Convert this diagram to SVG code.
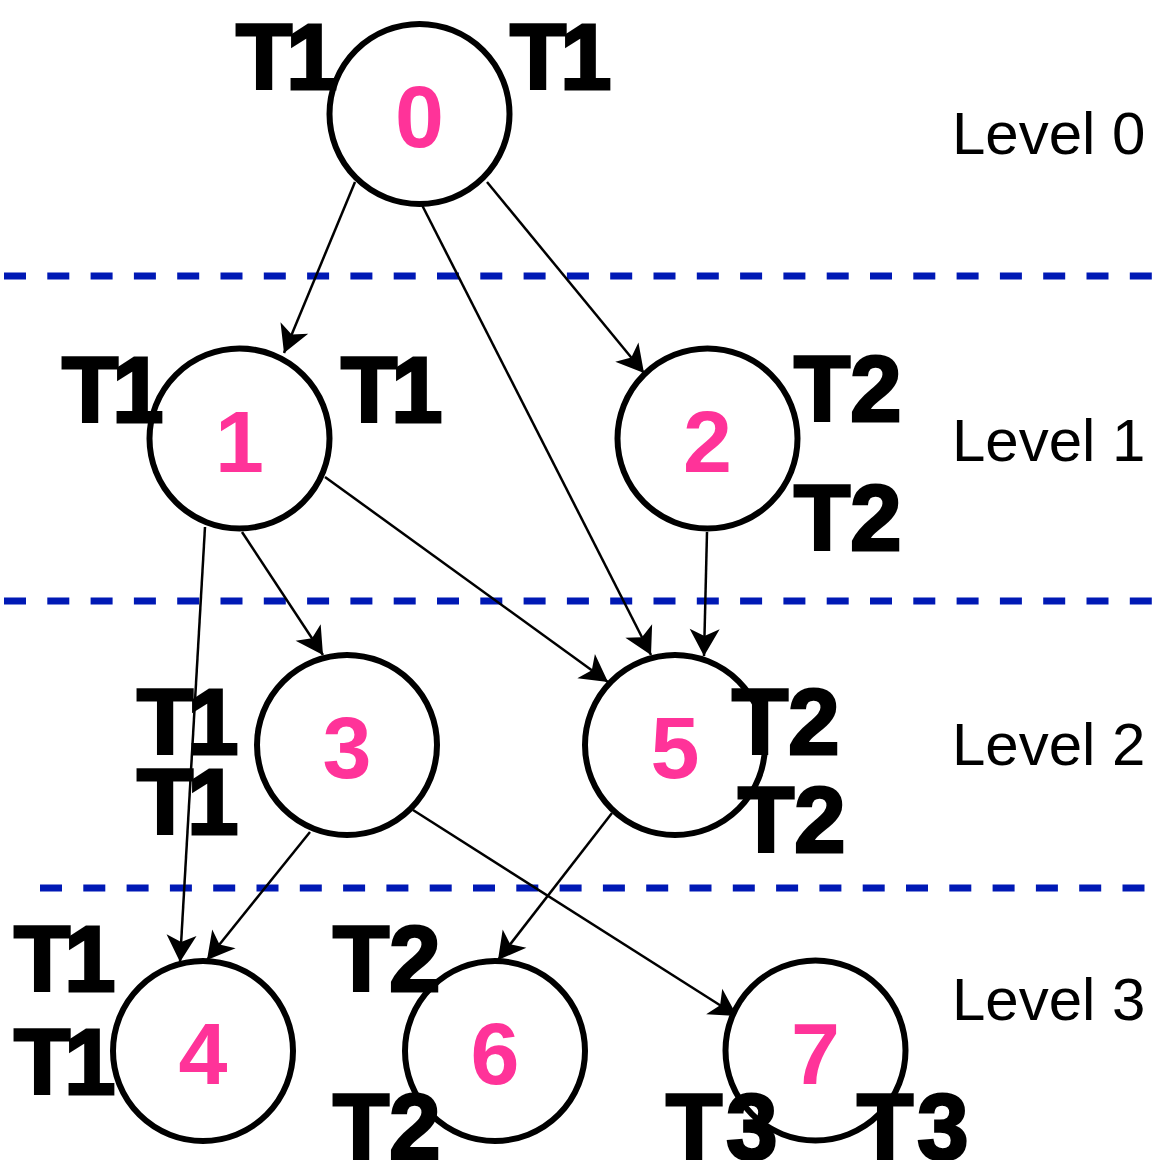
<svg xmlns="http://www.w3.org/2000/svg" width="1154" height="1160" viewBox="0 0 1154 1160">
  <style>
    .level-sep { stroke: #0019b5; stroke-width: 7; stroke-dasharray: 22 21.3; fill: none; }
    .edge { stroke: #000; stroke-width: 2.5; fill: none; marker-end: url(#arrow); }
    .node circle { fill: #fff; stroke: #000; stroke-width: 6; }
    .num { font-family: "Liberation Sans", Arial, sans-serif; font-weight: bold; font-size: 88px; fill: #ff3399; text-anchor: middle; }
    .tag { font-family: "Liberation Sans", Arial, sans-serif; font-weight: bold; font-size: 92px; fill: #000; stroke: #000; stroke-width: 3; }
    .t1 { letter-spacing: -6px; }
    .t3 { letter-spacing: 4px; }
    .level { font-family: "Liberation Sans", Arial, sans-serif; font-size: 60px; fill: #000; }
  </style>
  <defs>
    <marker id="arrow" viewBox="-28 -16 30 32" refX="0" refY="0" markerWidth="30" markerHeight="32" markerUnits="userSpaceOnUse" orient="auto">
      <path d="M0,0 L-27,-15 L-20,0 L-27,15 Z" fill="#000"/>
    </marker>
  </defs>

  <rect width="1154" height="1160" fill="#fff"/>

  <!-- level separators -->
  <g id="separators">
    <line class="level-sep" x1="4" y1="276" x2="1152" y2="276"/>
    <line class="level-sep" x1="4" y1="601" x2="1152" y2="601"/>
    <line class="level-sep" x1="40" y1="888" x2="1146" y2="888"/>
  </g>

  <!-- level captions -->
  <g id="levels">
    <text class="level" x="952" y="154">Level 0</text>
    <text class="level" x="952" y="461">Level 1</text>
    <text class="level" x="952" y="765">Level 2</text>
    <text class="level" x="952" y="1020">Level 3</text>
  </g>

  <!-- connectors -->
  <g id="edges">
    <line class="edge" x1="355" y1="182" x2="284" y2="353"/>
    <line class="edge" x1="487" y1="182" x2="644" y2="373"/>
    <line class="edge" x1="422" y1="205" x2="651" y2="655"/>
    <line class="edge" x1="205" y1="527" x2="180" y2="962"/>
    <line class="edge" x1="242" y1="532" x2="323" y2="655"/>
    <line class="edge" x1="325" y1="477" x2="608" y2="682"/>
    <line class="edge" x1="707" y1="532" x2="704" y2="656"/>
    <line class="edge" x1="310" y1="832" x2="207" y2="960"/>
    <line class="edge" x1="413" y1="810" x2="737" y2="1016"/>
    <line class="edge" x1="612" y1="813" x2="498" y2="960"/>
  </g>

  <!-- nodes -->
  <g id="node0" class="node">
    <circle cx="419.5" cy="114" r="90"/>
    <text class="num" x="419.5" y="147">0</text>
    <text class="tag t1" x="236" y="89">T1</text>
    <text class="tag t1" x="510" y="89">T1</text>
  </g>
  <g id="node1" class="node">
    <circle cx="239.5" cy="438.5" r="90"/>
    <text class="num" x="239.5" y="471.5">1</text>
    <text class="tag t1" x="62" y="422">T1</text>
    <text class="tag t1" x="341" y="422">T1</text>
  </g>
  <g id="node2" class="node">
    <circle cx="707.5" cy="438.5" r="90"/>
    <text class="num" x="707.5" y="471.5">2</text>
    <text class="tag" x="794" y="421">T2</text>
    <text class="tag" x="794" y="550">T2</text>
  </g>
  <g id="node3" class="node">
    <circle cx="347" cy="745" r="90"/>
    <text class="num" x="347" y="778">3</text>
    <text class="tag t1" x="137" y="754">T1</text>
    <text class="tag t1" x="137" y="834">T1</text>
  </g>
  <g id="node5" class="node">
    <circle cx="675" cy="745" r="90"/>
    <text class="num" x="675" y="778">5</text>
    <text class="tag" x="732" y="754">T2</text>
    <text class="tag" x="738" y="852">T2</text>
  </g>
  <g id="node4" class="node">
    <circle cx="203" cy="1051" r="90"/>
    <text class="num" x="203" y="1084">4</text>
    <text class="tag t1" x="14" y="991">T1</text>
    <text class="tag t1" x="14" y="1094">T1</text>
  </g>
  <g id="node6" class="node">
    <circle cx="495" cy="1051" r="90"/>
    <text class="num" x="495" y="1084">6</text>
    <text class="tag" x="333" y="991">T2</text>
    <text class="tag" x="333" y="1159">T2</text>
  </g>
  <g id="node7" class="node">
    <circle cx="815.5" cy="1050.5" r="90"/>
    <text class="num" x="815.5" y="1083.5">7</text>
    <text class="tag t3" x="666" y="1159">T3</text>
    <text class="tag t3" x="857" y="1159">T3</text>
  </g>
</svg>
